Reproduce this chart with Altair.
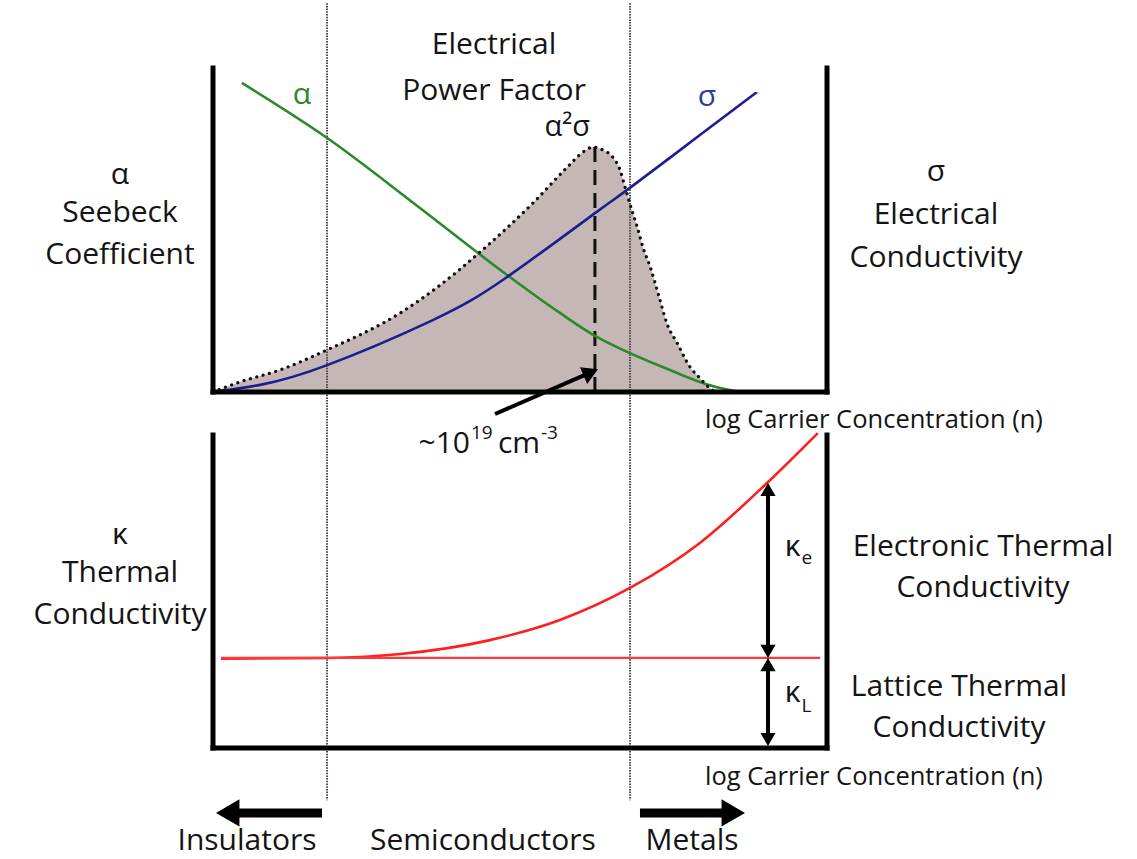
import math
import altair as alt
import pandas as pd

# ---------------- data (x: log carrier concentration, panel units 0..10) -------------
# top panel (response units 0..10)
seebeck_x = [0.47, 1.86, 3.37, 4.79, 5.65, 6.25, 6.79, 7.44, 7.93, 8.26, 8.58]
seebeck_y = [9.54, 7.84, 5.68, 3.61, 2.44, 1.70, 1.20, 0.68, 0.31, 0.12, 0.0]

sigma_x = [0.0, 0.77, 1.86, 3.58, 4.79, 6.25, 6.79, 7.93, 8.86]
sigma_y = [0.0, 0.22, 0.83, 2.22, 3.55, 5.56, 6.30, 7.93, 9.26]

pf_x = [0.0, 0.44, 1.09, 1.86, 3.05, 3.70, 4.35, 5.21, 5.77, 6.03, 6.19, 6.35, 6.51,
        6.63, 6.71, 6.82, 6.91, 7.00, 7.12, 7.28, 7.39, 7.56, 7.77, 7.93, 8.09, 8.19]
pf_y = [0.0, 0.31, 0.68, 1.30, 2.44, 3.30, 4.32, 5.83, 6.94, 7.41, 7.56, 7.47, 7.25,
        6.85, 6.33, 5.62, 5.09, 4.48, 3.86, 2.84, 2.13, 1.51, 0.77, 0.43, 0.12, 0.0]
pf_peak_x = 6.22
pf_peak_y = 7.56

# bottom panel (response units 0..9.66)
kappa_x = [0.13, 1.89, 3.05, 4.51, 5.65, 6.82, 7.93, 9.04, 9.85]
kappa_y = [2.76, 2.78, 2.90, 3.33, 3.95, 4.97, 6.33, 8.21, 9.72]
lattice_x = [0.13, 9.89]
lattice_y = [2.78, 2.78]
kappa_e_top = 8.18

# region boundaries (log n)
boundaries = [1.857, 6.792]

# ---------------- layout ----------------
W, H = 1137, 859
PX_X, PX_Y = 61.4, 32.4           # pixels per unit
LEFT_PX, BASE_PX = 213, 392
X_DOM = [-LEFT_PX / PX_X, (W - LEFT_PX) / PX_X]
Y_DOM = [(BASE_PX - H) / PX_Y, BASE_PX / PX_Y]
BOT0 = (BASE_PX - 748) / PX_Y     # baseline of lower panel
BOT_TOP = 9.66

xs = alt.Scale(domain=X_DOM, nice=False, zero=False)
ys = alt.Scale(domain=Y_DOM, nice=False, zero=False)
FONT = "Open Sans"
INK = "#141414"


def X(f="x"):
    return alt.X(f"{f}:Q", scale=xs, axis=None)


def Y(f="y"):
    return alt.Y(f"{f}:Q", scale=ys, axis=None)


def line(xv, yv, color, width, dash=None, cap="butt", interp="monotone", offset=0.0):
    df = pd.DataFrame({"x": xv, "y": [v + offset for v in yv], "o": range(len(xv))})
    kw = dict(color=color, strokeWidth=width, strokeCap=cap, interpolate=interp)
    if dash:
        kw["strokeDash"] = dash
    return alt.Chart(df).mark_line(**kw).encode(x=X(), y=Y(), order="o:Q")


# power factor area
pf_df = pd.DataFrame({"x": pf_x, "y": pf_y, "y0": [0.0] * len(pf_x)})
pf_area = alt.Chart(pf_df).mark_area(
    color="#c6b7b7", fill="#c6b7b7", interpolate="monotone", opacity=1, fillOpacity=1
).encode(x=X(), y=Y(), y2="y0:Q")
pf_outline = line(pf_x, pf_y, "#111111", 3.2, dash=[0.1, 6.5], cap="round")

# region boundary dotted lines
bnd_df = pd.DataFrame({"x": boundaries, "y": [12.0, 12.0], "y2": [-12.6, -12.6]})
bnd = alt.Chart(bnd_df).mark_rule(color="#4a4a4a", strokeWidth=2, strokeDash=[1.5, 1.2]).encode(
    x=X(), y=Y(), y2="y2:Q")

# peak dashed line
peak_df = pd.DataFrame({"x": [pf_peak_x], "y": [pf_peak_y], "y2": [0.0]})
peak = alt.Chart(peak_df).mark_rule(color="#111111", strokeWidth=3, strokeDash=[15, 8]).encode(
    x=X(), y=Y(), y2="y2:Q")

seebeck = line(seebeck_x, seebeck_y, "#2a8a2a", 2.6)
sigma = line(sigma_x, sigma_y, "#1d1d8f", 2.6, interp="natural")
kappa = line(kappa_x, kappa_y, "#ff1e1e", 2.6, offset=BOT0)
lattice = line(lattice_x, lattice_y, "#ff3838", 2.2, interp="linear", offset=BOT0)

# frames
frames_df = pd.DataFrame({
    "x":  [0, 0, 10, 0, 0, 10],
    "x2": [0, 10, 10, 0, 10, 10],
    "y":  [10, 0, 0, BOT0 + BOT_TOP, BOT0, BOT0],
    "y2": [0, 0, 10, BOT0, BOT0, BOT0 + BOT_TOP],
})
frames = alt.Chart(frames_df).mark_rule(color="#000000", strokeWidth=5, strokeCap="square").encode(
    x=X(), x2="x2:Q", y=Y(), y2="y2:Q")

# arrows: (tail_x, tail_y, tip_x, tip_y, shaft width, head size, two-headed)
arrows = [
    (4.593, -0.679, 6.27, 0.70, 4, 330, False),                         # to 10^19
    (9.039, 2.778 + BOT0, 9.039, kappa_e_top + BOT0, 4, 230, True),     # kappa_e
    (9.039, 0.06 + BOT0, 9.039, 2.778 + BOT0, 4, 230, True),            # kappa_L
    (1.775, -12.99, 0.049, -12.99, 9, 730, False),                      # insulators
    (6.954, -12.99, 8.664, -12.99, 9, 730, False),                      # metals
]
shaft_rows, head_rows = [], []
for tx, ty, hx, hy, w, sz, both in arrows:
    dx, dy = (hx - tx) * PX_X, (hy - ty) * PX_Y
    L = math.hypot(dx, dy)
    ux, uy = dx / L, dy / L
    h = 0.433 * math.sqrt(sz)
    ang = (-math.degrees(math.atan2(dy, dx))) % 360
    hcx, hcy = hx - ux * h / PX_X, hy - uy * h / PX_Y
    head_rows.append({"x": hcx, "y": hcy, "a": ang, "s": sz})
    sx, sy = tx, ty
    if both:
        sx, sy = tx + ux * h / PX_X, ty + uy * h / PX_Y
        head_rows.append({"x": sx, "y": sy, "a": (ang + 180) % 360, "s": sz})
    shaft_rows.append({"x": sx, "y": sy, "x2": hcx, "y2": hcy, "w": w})

shafts = alt.Chart(pd.DataFrame(shaft_rows)).mark_rule(color="#000000").encode(
    x=X(), y=Y(), x2="x2:Q", y2="y2:Q", strokeWidth=alt.StrokeWidth("w:Q", scale=None))
heads = alt.Chart(pd.DataFrame(head_rows)).mark_point(
    shape="triangle-right", filled=True, color="#000000", opacity=1, strokeWidth=0).encode(
    x=X(), y=Y(), angle=alt.Angle("a:Q", scale=None), size=alt.Size("s:Q", scale=None))

# ---------------- texts ----------------
labels_main = [
    ("Electrical", 4.577, 10.71), ("Power Factor", 4.577, 9.30),
    ("α", -1.515, 6.70), ("Seebeck", -1.515, 5.52), ("Coefficient", -1.515, 4.23),
    ("σ", 11.775, 6.79), ("Electrical", 11.775, 5.46), ("Conductivity", 11.775, 4.14),
    ("κ", -1.515, -4.41), ("Thermal", -1.515, -5.59), ("Conductivity", -1.515, -6.88),
    ("Electronic Thermal", 12.54, -4.78), ("Conductivity", 12.54, -6.05),
    ("Lattice Thermal", 12.15, -9.10), ("Conductivity", 12.15, -10.37),
    ("Insulators", 0.554, -13.85), ("Semiconductors", 4.397, -13.85), ("Metals", 7.801, -13.85),
]
colored = [("α", 1.45, 9.17, "#2a8a2a"), ("σ", 8.046, 9.10, "#2b3f9a")]
MAIN = 30


def text_layer(rows, size, align="center", baseline="middle", color=INK):
    df = pd.DataFrame(rows, columns=["t", "x", "y"])
    return alt.Chart(df).mark_text(font=FONT, fontSize=size, align=align, baseline=baseline,
                                   color=color).encode(x=X(), y=Y(), text="t:N")


t_main = text_layer(labels_main, MAIN)
cdf = pd.DataFrame(colored, columns=["t", "x", "y", "c"])
t_col = alt.Chart(cdf).mark_text(font=FONT, fontSize=MAIN, align="center", baseline="middle").encode(
    x=X(), y=Y(), text="t:N", color=alt.Color("c:N", scale=None))
t_a2s = text_layer([("α²σ", 6.14, 8.17)], 29, align="right")
t_log = text_layer([("log Carrier Concentration (n)", 8.013, -0.86),
                    ("log Carrier Concentration (n)", 8.013, -11.88)], 25.5, align="left")
# ~10^19 cm^-3
t_n_big_r = text_layer([("~10", 4.186, -1.883)], MAIN, align="right", baseline="alphabetic")
t_n_big_l = text_layer([("cm", 4.64, -1.883)], MAIN, align="left", baseline="alphabetic")
t_n_sup = text_layer([("19", 4.20, -1.45), ("-3", 5.34, -1.45)], 19, align="left",
                     baseline="alphabetic")
# kappa_e, kappa_L
t_k = text_layer([("κ", 9.57, -4.79), ("κ", 9.57, -9.29)], 30, align="right")
t_ksub = text_layer([("e", 9.585, -5.12), ("L", 9.585, -9.68)], 19, align="left")

chart = alt.layer(
    pf_area, bnd, peak, seebeck, sigma, pf_outline, kappa, lattice, frames, shafts, heads,
    t_main, t_col, t_a2s, t_log, t_n_big_r, t_n_big_l, t_n_sup, t_k, t_ksub,
).properties(
    width=W, height=H, padding=0, autosize=alt.AutoSizeParams(type="none"), background="white"
).configure_view(stroke=None)

chart.save("out.html", embed_options={"renderer": "svg", "actions": False})
